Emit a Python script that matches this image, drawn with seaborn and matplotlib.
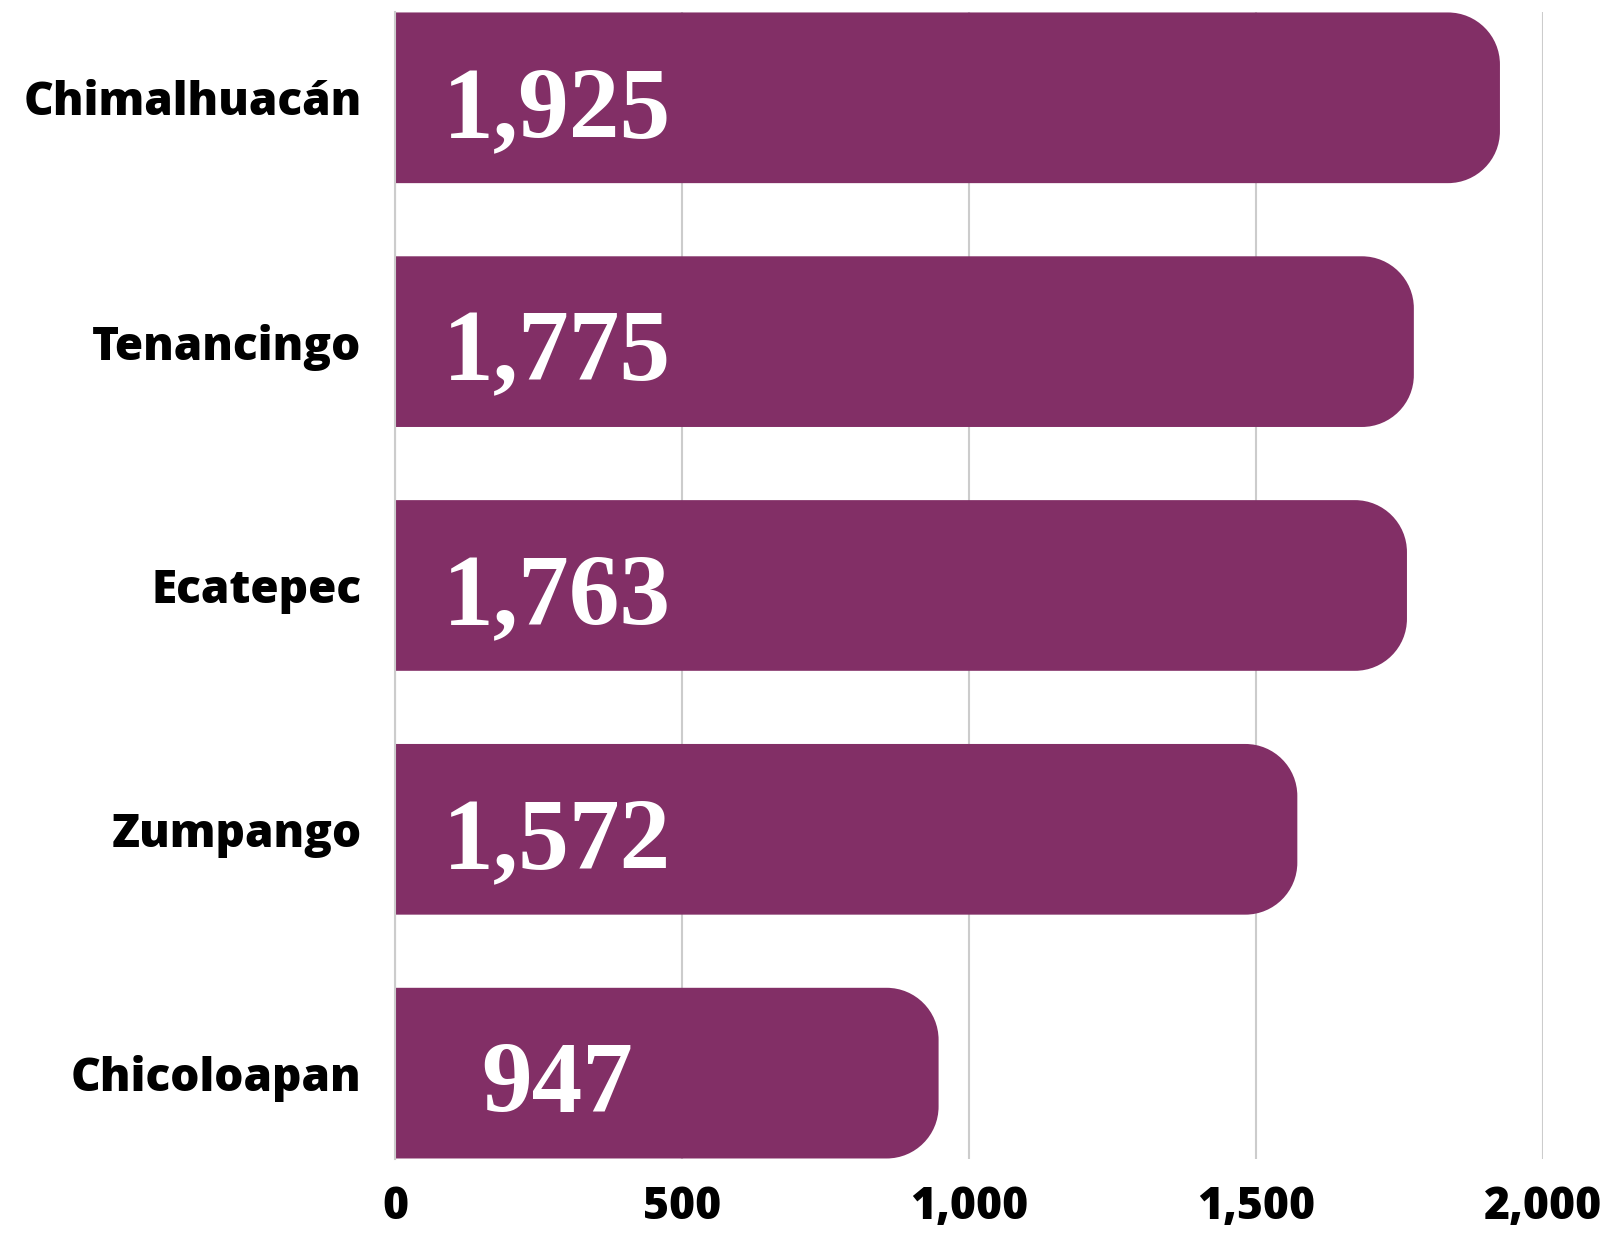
import matplotlib
matplotlib.use("Agg")
import matplotlib.pyplot as plt
import seaborn as sns
import pandas as pd
from matplotlib.path import Path
from matplotlib.patches import PathPatch

# Chart data
municipios = ["Chimalhuacán", "Tenancingo", "Ecatepec", "Zumpango", "Chicoloapan"]
valores = [1925, 1775, 1763, 1572, 947]
xticks = [0, 500, 1000, 1500, 2000]
xtick_labels = ["0", "500", "1,000", "1,500", "2,000"]

BAR_COLOR = "#822F66"
GRID_COLOR = "#CCCCCC"


def rounded_right_path(x0, y0, w, h, rx, ry):
    """Bar outline with rounded right corners (rx, ry in data units)."""
    k = 0.5523
    x1 = x0 + w
    y1 = y0 + h
    verts = [
        (x0, y0),
        (x1 - rx, y0),
        (x1 - rx + k * rx, y0), (x1, y0 + ry - k * ry), (x1, y0 + ry),
        (x1, y1 - ry),
        (x1, y1 - ry + k * ry), (x1 - rx + k * rx, y1), (x1 - rx, y1),
        (x0, y1),
        (x0, y0),
    ]
    codes = [Path.MOVETO, Path.LINETO,
             Path.CURVE4, Path.CURVE4, Path.CURVE4,
             Path.LINETO,
             Path.CURVE4, Path.CURVE4, Path.CURVE4,
             Path.LINETO, Path.CLOSEPOLY]
    return Path(verts, codes)


def main():
    sns.set_style("white")
    plt.rcParams["font.family"] = ["Open Sans", "DejaVu Sans"]

    df = pd.DataFrame({"municipio": municipios, "valor": valores})

    fig = plt.figure(figsize=(16.13, 12.34), dpi=100)
    ax = fig.add_axes([0.2449, 0.0608, 0.9566 - 0.2449, 0.9903 - 0.0608])

    sns.barplot(data=df, x="valor", y="municipio", orient="h",
                color=BAR_COLOR, width=0.70, saturation=1, ax=ax, zorder=2)

    ax.set_xlim(0, 2000)
    ax.set_ylim(len(municipios) - 1 + 0.352, -0.352)

    # corner radius ~52 px, converted to data units on each axis
    fig.canvas.draw()
    px_per_x = ax.transData.transform((1, 0))[0] - ax.transData.transform((0, 0))[0]
    px_per_y = abs(ax.transData.transform((0, 1))[1] - ax.transData.transform((0, 0))[1])
    rx = 52 / px_per_x
    ry = 52 / px_per_y

    for patch in list(ax.patches):
        x0, y0 = patch.get_x(), patch.get_y()
        w, h = patch.get_width(), patch.get_height()
        patch.set_visible(False)
        ax.add_patch(PathPatch(rounded_right_path(x0, y0, w, h, rx, ry),
                               facecolor=BAR_COLOR, edgecolor="none", zorder=2))

    # value labels inside bars
    for i, v in enumerate(valores):
        ax.text(282, i + 0.16, f"{v:,}", ha="center", va="baseline",
                fontsize=73, fontweight="bold", color="white",
                family=["Liberation Serif", "DejaVu Serif"], zorder=3)

    ax.set_xticks(xticks)
    ax.set_xticklabels(xtick_labels)
    ax.xaxis.grid(True, color=GRID_COLOR, linewidth=1.5, zorder=0)
    ax.set_axisbelow(True)
    ax.tick_params(axis="x", length=0, pad=19, labelsize=32)
    ax.tick_params(axis="y", length=0, pad=24, labelsize=33)
    for lbl in ax.get_xticklabels() + ax.get_yticklabels():
        lbl.set_fontweight("heavy")
        lbl.set_color("black")

    ax.set_xlabel("")
    ax.set_ylabel("")
    for side in ["top", "right", "bottom"]:
        ax.spines[side].set_visible(False)
    ax.spines["left"].set_color(GRID_COLOR)
    ax.spines["left"].set_linewidth(1.5)

    fig.savefig("out.png", dpi=100, facecolor="white")


if __name__ == "__main__":
    main()
